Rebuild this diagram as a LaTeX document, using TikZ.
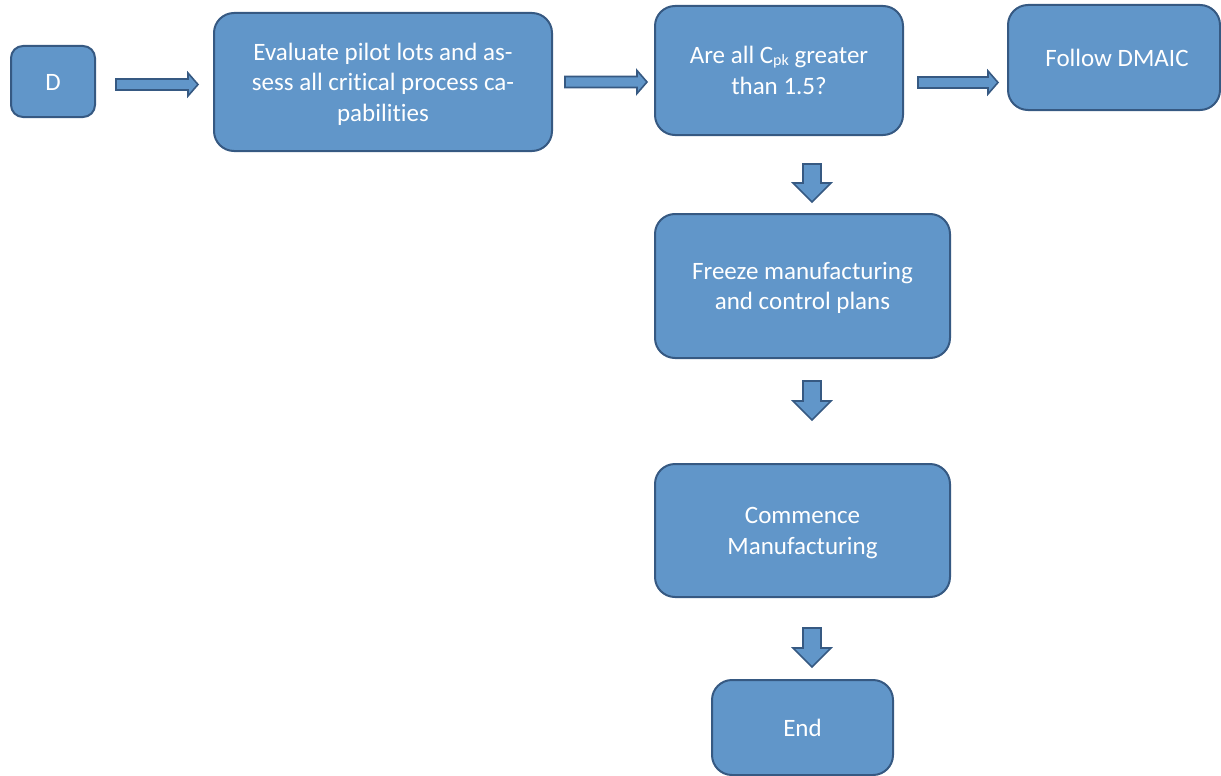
\documentclass[tikz,border=0pt]{standalone}
\usepackage{fontspec}
\setmainfont{Carlito}[Ligatures={NoCommon}]
\usetikzlibrary{calc}
\definecolor{boxfill}{RGB}{97,150,201}
\definecolor{boxline}{RGB}{54,89,130}
\newcommand{\boxtext}[1]{\raisebox{-2.5pt}[\height][\depth]{\begin{tabular}{@{}c@{}}#1\end{tabular}}}
\tikzset{
  box/.style={draw=boxline, fill=boxfill, line width=2pt, rounded corners=#1,
    text=white, align=center, inner sep=0pt,
    font=\fontsize{25}{30.5}\selectfont},
  box/.default=20pt,
  harrow/.style={draw=boxline, fill=boxfill, line width=1.6pt, line join=miter,
    to path={let \p1=(\tikztostart), \p2=(\tikztotarget) in
      (\x1,\y1+5.5pt) -- (\x2-10pt,\y1+5.5pt) -- (\x2-10pt,\y1+11.5pt) -- (\x2,\y1)
      -- (\x2-10pt,\y1-11.5pt) -- (\x2-10pt,\y1-5.5pt) -- (\x1,\y1-5.5pt) -- cycle}},
  varrow/.style={draw=boxline, fill=boxfill, line width=1.6pt, line join=miter,
    to path={let \p1=(\tikztostart), \p2=(\tikztotarget) in
      (\x1-9pt,\y1) -- (\x1-9pt,\y2+19pt) -- (\x1-19pt,\y2+19pt) -- (\x1,\y2)
      -- (\x1+19pt,\y2+19pt) -- (\x1+9pt,\y2+19pt) -- (\x1+9pt,\y1) -- cycle}}
}
\begin{document}
\begin{tikzpicture}[x=1pt,y=-1pt]
\useasboundingbox (0,0) rectangle (1221,776);
\node[box=12pt, minimum width=84pt, minimum height=71pt] (D) at (53,81.5) {\boxtext{D}};
\node[box, minimum width=338pt, minimum height=138pt] (E) at (383,82)
  {\boxtext{Evaluate pilot lots and as-\\sess all critical process ca-\\pabilities}};
\node[box, minimum width=248pt, minimum height=129pt] (A) at (779,70.5)
  {\boxtext{Are all C\raisebox{-2pt}{\fontsize{16}{16}\selectfont pk} greater\\than 1.5?}};
\node[box, minimum width=212pt, minimum height=105pt] (F) at (1114,57.5) {\boxtext{\hspace*{6pt}Follow DMAIC}};
\node[box, minimum width=295pt, minimum height=144pt] (Fr) at (802.5,286)
  {\boxtext{Freeze manufacturing\\and control plans}};
\node[box, minimum width=295pt, minimum height=133pt] (C) at (802.5,530.5)
  {\boxtext{Commence\\Manufacturing}};
\node[box, minimum width=181pt, minimum height=95pt] (End) at (802.5,727.5) {\boxtext{End}};

\draw[harrow] ($(D.east)+(20,3)$) to ($(E.west)+(-15,0)$);
\draw[harrow] ($(E.east)+(12,0)$) to ($(A.west)+(-7,0)$);
\draw[harrow] ($(A.east)+(14,12)$) to ($(F.west)+(-9,0)$);
\draw[varrow] ($(A.south)+(33,28)$) to ($(Fr.north)+(0,-11)$);
\draw[varrow] ($(Fr.south)+(9.5,22)$) to ($(C.north)+(0,-43)$);
\draw[varrow] ($(C.south)+(9.5,30)$) to ($(End.north)+(0,-12)$);
\end{tikzpicture}
\end{document}
